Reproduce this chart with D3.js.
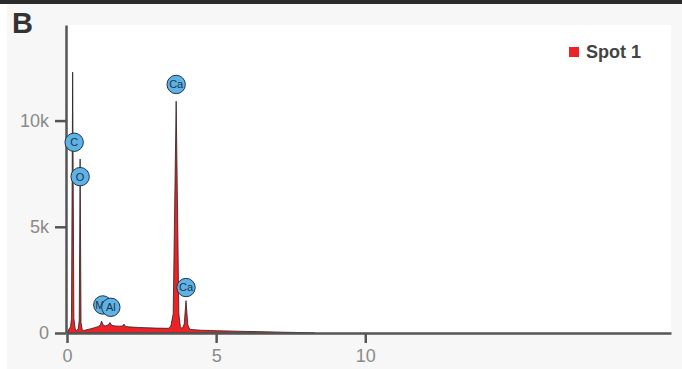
<!DOCTYPE html>
<html>
<head>
<meta charset="utf-8">
<script src="https://cdn.jsdelivr.net/npm/d3@7"></script>
<style>
  body { margin: 0; background: #fff; }
  svg { display: block; }
</style>
</head>
<body>
<div id="chart"></div>
<script>
// spectrum (energy keV, counts)
const energy = [0, 0.05, 0.12, 0.15, 0.19, 0.23, 0.28, 0.33, 0.38, 0.41, 0.44, 0.47, 0.51, 0.56,
  0.8, 1.04, 1.12, 1.16, 1.21, 1.28, 1.38, 1.44, 1.5, 1.61, 1.75, 1.86, 1.91, 1.96, 2.05, 2.4,
  3.0, 3.4, 3.48, 3.56, 3.66, 3.75, 3.8, 3.86, 3.93, 3.99, 4.05, 4.12, 4.5, 5, 6, 7, 8, 8.3];
const counts = [0, 150, 300, 700, 12280, 700, 140, 120, 220, 600, 8190, 500, 150, 120,
  200, 300, 380, 560, 380, 330, 380, 490, 360, 330, 320, 330, 420, 310, 290, 260,
  230, 220, 320, 900, 10910, 900, 300, 200, 420, 1520, 380, 170, 130, 110, 75, 45, 15, 0];

const peakLabels = ["Mg", "Al", "C", "O", "Ca", "Ca"];
const peakEnergy = [1.2, 1.47, 0.24, 0.44, 3.66, 3.99];
const peakCounts = [1320, 1210, 8980, 7360, 11700, 2140];

const seriesName = "Spot 1";
const xTicks = [0, 5, 10];
const yTicks = [0, 5000, 10000];

const width = 682, height = 369;
const plot = {left: 67, right: 671, top: 25, bottom: 333};

const svg = d3.select("#chart").append("svg")
    .attr("width", width)
    .attr("height", height);

// panel background
svg.append("rect").attr("x", 7).attr("y", 0).attr("width", width - 7).attr("height", height)
    .attr("fill", "#f7f7f7");
svg.append("rect").attr("x", 0).attr("y", 0).attr("width", width).attr("height", 4)
    .attr("fill", "#2b2b2b");
svg.append("rect").attr("x", plot.left).attr("y", plot.top)
    .attr("width", plot.right - plot.left).attr("height", plot.bottom - plot.top)
    .attr("fill", "#fff");

svg.append("text")
    .attr("x", 12).attr("y", 33)
    .attr("font-family", "Liberation Sans, Arial, sans-serif")
    .attr("font-weight", "bold")
    .attr("font-size", 29)
    .attr("fill", "#333")
    .text("B");

const x = d3.scaleLinear().domain([0, 20.25]).range([plot.left, plot.right]);
const y = d3.scaleLinear().domain([0, 14500]).range([plot.bottom, plot.top]);

const data = energy.map((e, i) => ({e: e, c: counts[i]}));

const area = d3.area()
    .x(d => x(d.e))
    .y0(y(0))
    .y1(d => y(d.c));

svg.append("path")
    .datum(data)
    .attr("d", area)
    .attr("fill", "#ec2227")
    .attr("stroke", "#222")
    .attr("stroke-width", 0.8)
    .attr("stroke-linejoin", "round");

// axes
const yAxis = svg.append("g")
    .attr("transform", `translate(${plot.left - 1},0)`)
    .call(d3.axisLeft(y).tickValues(yTicks).tickSize(11).tickSizeOuter(0).tickPadding(6)
        .tickFormat(d => d === 0 ? "0" : (d / 1000) + "k"));

const xAxis = svg.append("g")
    .attr("transform", `translate(0,${plot.bottom})`)
    .call(d3.axisBottom(x).tickValues(xTicks).tickSize(10).tickSizeOuter(0).tickPadding(6));

[xAxis, yAxis].forEach(g => {
    g.select(".domain").attr("stroke", "#555").attr("stroke-width", 2.5);
    g.selectAll(".tick line").attr("stroke", "#555").attr("stroke-width", 2.5);
    g.selectAll(".tick text")
        .attr("fill", "#8a8a8a")
        .attr("font-size", 18)
        .attr("font-family", "Liberation Sans, Arial, sans-serif");
});

// peak labels (Mg sits under Al, as in the source)
const marks = svg.append("g")
    .selectAll("g")
    .data(peakLabels.map((l, i) => ({label: l, e: peakEnergy[i], c: peakCounts[i]})))
    .join("g")
    .attr("transform", d => `translate(${x(d.e)},${y(d.c)})`);

marks.append("circle")
    .attr("r", 9.2)
    .attr("fill", "#5fb2e3")
    .attr("stroke", "#1b3550")
    .attr("stroke-width", 1);

marks.append("text")
    .attr("text-anchor", "middle")
    .attr("dy", "0.35em")
    .attr("font-family", "Liberation Sans, Arial, sans-serif")
    .attr("font-size", 11)
    .attr("fill", "#1b3550")
    .text(d => d.label);

// legend
const legend = svg.append("g").attr("transform", "translate(569,47)");
legend.append("rect").attr("width", 10).attr("height", 10).attr("fill", "#ec2227");
legend.append("text")
    .attr("x", 17).attr("y", 10.5)
    .attr("font-family", "Liberation Sans, Arial, sans-serif")
    .attr("font-weight", "bold")
    .attr("font-size", 18)
    .attr("fill", "#444")
    .text(seriesName);
</script>
</body>
</html>
